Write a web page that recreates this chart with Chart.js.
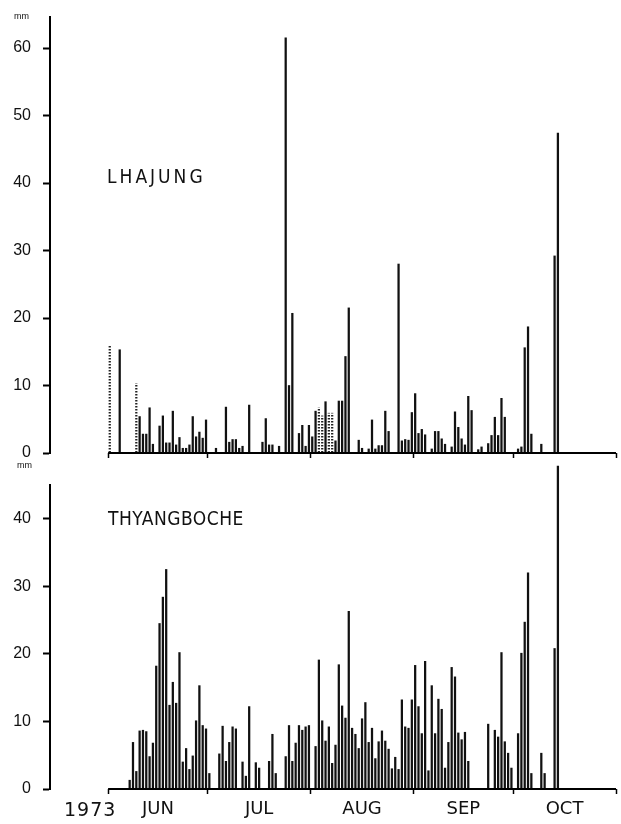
<!DOCTYPE html>
<html>
<head>
<meta charset="utf-8">
<script src="https://cdn.jsdelivr.net/npm/chart.js@4.4.0/dist/chart.umd.min.js"></script>
<style>
  body { margin: 0; background: #fff; }
  #wrap { position: relative; width: 621px; height: 824px; overflow: hidden; }
  canvas { position: absolute; left: 0; }
  .lbl { position: absolute; font-family: "DejaVu Sans", sans-serif; color: #111; white-space: nowrap; }
  .station { font-size: 19px; font-stretch: condensed; }
  .unit { font-size: 9px; font-family: "Liberation Sans", sans-serif; }
</style>
</head>
<body>
<div id="wrap">
  <canvas id="top" width="621" height="488" style="top:-8px"></canvas>
  <canvas id="bottom" width="621" height="364" style="top:460px"></canvas>
  <div class="lbl unit" style="left:14px;top:11px">mm</div>
  <div class="lbl unit" style="left:17px;top:460px">mm</div>
  <div class="lbl station" style="left:107px;top:165px;letter-spacing:3px">LHAJUNG</div>
  <div class="lbl station" style="left:108px;top:507px;letter-spacing:0.5px">THYANGBOCHE</div>
  <div class="lbl" style="left:64px;top:798px;font-size:19px;letter-spacing:1px">1973</div>
</div>
<script>
// days counted from 1 June 1973 (0 = Jun 1)
const monthEdges = [0, 30, 61, 92, 122, 153];
const monthMids = [15, 45.5, 76.5, 107, 137.5];
const monthNames = ["JUN", "JUL", "AUG", "SEP", "OCT"];

// LHAJUNG daily precipitation (mm)
const lhajungDays = [3,9,10,11,12,13,15,16,17,18,19,20,21,22,23,24,25,26,27,28,29,32,35,36,37,38,39,40,42,46,
  47,48,49,51,53,54,55,57,58,59,60,61,62,65,68,69,70,71,72,75,76,78,79,80,81,82,83,84,87,88,
  89,90,91,92,93,94,95,97,98,99,100,101,103,104,105,106,107,108,109,111,112,114,115,116,117,118,119,123,124,125,
  126,127,130,134,135];
const lhajungMm = [15.3,5.4,2.8,2.8,6.7,1.3,4.0,5.5,1.5,1.5,6.2,1.2,2.3,0.7,0.7,1.2,5.4,2.4,3.1,2.2,4.9,0.7,6.8,1.6,2.0,2.0,0.7,1.0,7.1,1.6,
  5.1,1.2,1.2,1.0,61.5,10.0,20.7,2.9,4.1,1.0,4.1,2.4,6.2,7.6,1.8,7.7,7.7,14.3,21.5,1.9,0.7,0.6,4.9,0.6,1.1,1.1,6.2,3.2,28.0,1.8,
  2.0,1.9,6.0,8.8,2.9,3.5,2.7,0.6,3.2,3.2,2.1,1.3,0.9,6.1,3.8,2.1,1.2,8.4,6.3,0.5,0.9,1.4,2.6,5.3,2.6,8.1,5.3,0.6,0.9,15.6,
  18.7,2.8,1.3,29.2,47.4];
// dotted (estimated) bars
const lhajungDotDays = [0, 8, 63, 64, 66, 67];
const lhajungDotMm = [15.9, 10.3, 6.7, 5.5, 5.9, 5.9];

// THYANGBOCHE daily precipitation (mm)
const thyangDays = [6,7,8,9,10,11,12,13,14,15,16,17,18,19,20,21,22,23,24,25,26,27,28,29,30,
  33,34,35,36,37,38,40,41,42,44,45,48,49,50,53,54,55,56,57,58,59,60,
  62,63,64,65,66,67,68,69,70,71,72,73,74,75,76,77,78,79,80,81,82,83,84,85,86,87,88,89,90,91,
  92,93,94,95,96,97,98,99,100,101,102,103,104,105,106,107,108,
  114,116,117,118,119,120,121,123,124,125,126,127,130,131,134,135];
const thyangMm = [1.3,6.9,2.6,8.6,8.7,8.5,4.8,6.8,18.2,24.5,28.4,32.5,12.4,15.8,12.7,20.2,4.0,6.0,2.9,4.9,10.1,15.3,9.4,8.9,2.3,
  5.2,9.3,4.1,6.9,9.2,8.9,4.0,1.9,12.2,3.9,3.1,4.1,8.1,2.3,4.8,9.4,4.1,6.8,9.4,8.7,9.2,9.4,
  6.3,19.1,10.1,7.1,9.2,3.8,6.5,18.4,12.3,10.5,26.3,9.0,8.1,6.0,10.4,12.8,6.9,9.0,4.5,7.0,8.6,7.1,5.9,3.0,4.7,2.9,13.2,9.2,9.0,13.2,
  18.3,12.2,8.2,18.9,2.7,15.3,8.2,13.3,11.8,3.1,6.9,18.0,16.6,8.3,7.3,8.4,4.1,
  9.6,8.7,7.7,20.2,7.0,5.3,3.1,8.2,20.1,24.7,32.0,2.3,5.3,2.3,20.8,47.8];

const tickFont = { family: "'Liberation Sans', sans-serif", size: 16 };

function pts(days, vals) {
  return days.map((d, i) => ({ x: d + 0.5, y: vals[i] }));
}

function dotPattern() {
  const c = document.createElement("canvas");
  c.width = 2; c.height = 3;
  const g = c.getContext("2d");
  g.fillStyle = "#222";
  g.fillRect(0, 0, 2, 1.5);
  return g.createPattern(c, "repeat");
}

// x axis line only runs over the observation period
const baseline = {
  id: "baseline",
  afterDatasetsDraw(chart) {
    const { ctx, chartArea, scales } = chart;
    const x = scales.x;
    ctx.save();
    ctx.strokeStyle = "#000";
    ctx.lineWidth = 2;
    ctx.beginPath();
    ctx.moveTo(x.getPixelForValue(monthEdges[0]), chartArea.bottom);
    ctx.lineTo(x.getPixelForValue(monthEdges[monthEdges.length - 1]), chartArea.bottom);
    ctx.stroke();
    ctx.restore();
  }
};

function yScale(max) {
  return {
    min: 0, max: max,
    border: { color: "#000", width: 2 },
    grid: { drawOnChartArea: false, tickLength: 7, tickWidth: 2, tickColor: "#000" },
    ticks: { stepSize: 10, includeBounds: false, padding: 12, color: "#111", font: tickFont },
    afterFit: s => { s.width = 50; }
  };
}

function makeChart(id, datasets, yMax, pad, showLabels) {
  return new Chart(document.getElementById(id), {
    type: "bar",
    data: { datasets },
    options: {
      responsive: false,
      animation: false,
      layout: { padding: pad },
      plugins: { legend: { display: false }, tooltip: { enabled: false } },
      scales: {
        x: {
          type: "linear", min: -17.5, max: 153, offset: false,
          border: { display: false },
          grid: {
            offset: false, drawOnChartArea: false, tickLength: 5, tickWidth: 1.5,
            tickColor: c => monthEdges.includes(c.tick && c.tick.value) ? "#000" : "rgba(0,0,0,0)"
          },
          afterBuildTicks: s => {
            const vals = showLabels ? monthEdges.concat(monthMids) : monthEdges.slice();
            s.ticks = vals.sort((a, b) => a - b).map(v => ({ value: v }));
          },
          ticks: {
            display: showLabels, autoSkip: false, maxRotation: 0, padding: 5, color: "#111",
            font: { family: "'DejaVu Sans', sans-serif", size: 18 },
            callback: v => { const i = monthMids.indexOf(v); return i < 0 ? "" : monthNames[i]; }
          },
          afterFit: s => { s.height = showLabels ? 35 : 10; }
        },
        y: yScale(yMax)
      }
    },
    plugins: [baseline]
  });
}

makeChart("top", [
  { data: pts(lhajungDays, lhajungMm), backgroundColor: "#111", barThickness: 1.6, grouped: false, clip: false },
  { data: pts(lhajungDotDays, lhajungDotMm), backgroundColor: dotPattern(), barThickness: 1.6, grouped: false, clip: false }
], 64.6, { top: 25, right: 5, bottom: 17, left: 0 }, false);

makeChart("bottom", [
  { data: pts(thyangDays, thyangMm), backgroundColor: "#111", barThickness: 1.6, grouped: false, clip: false }
], 45, { top: 25, right: 5, bottom: 0, left: 0 }, true);
</script>
</body>
</html>
